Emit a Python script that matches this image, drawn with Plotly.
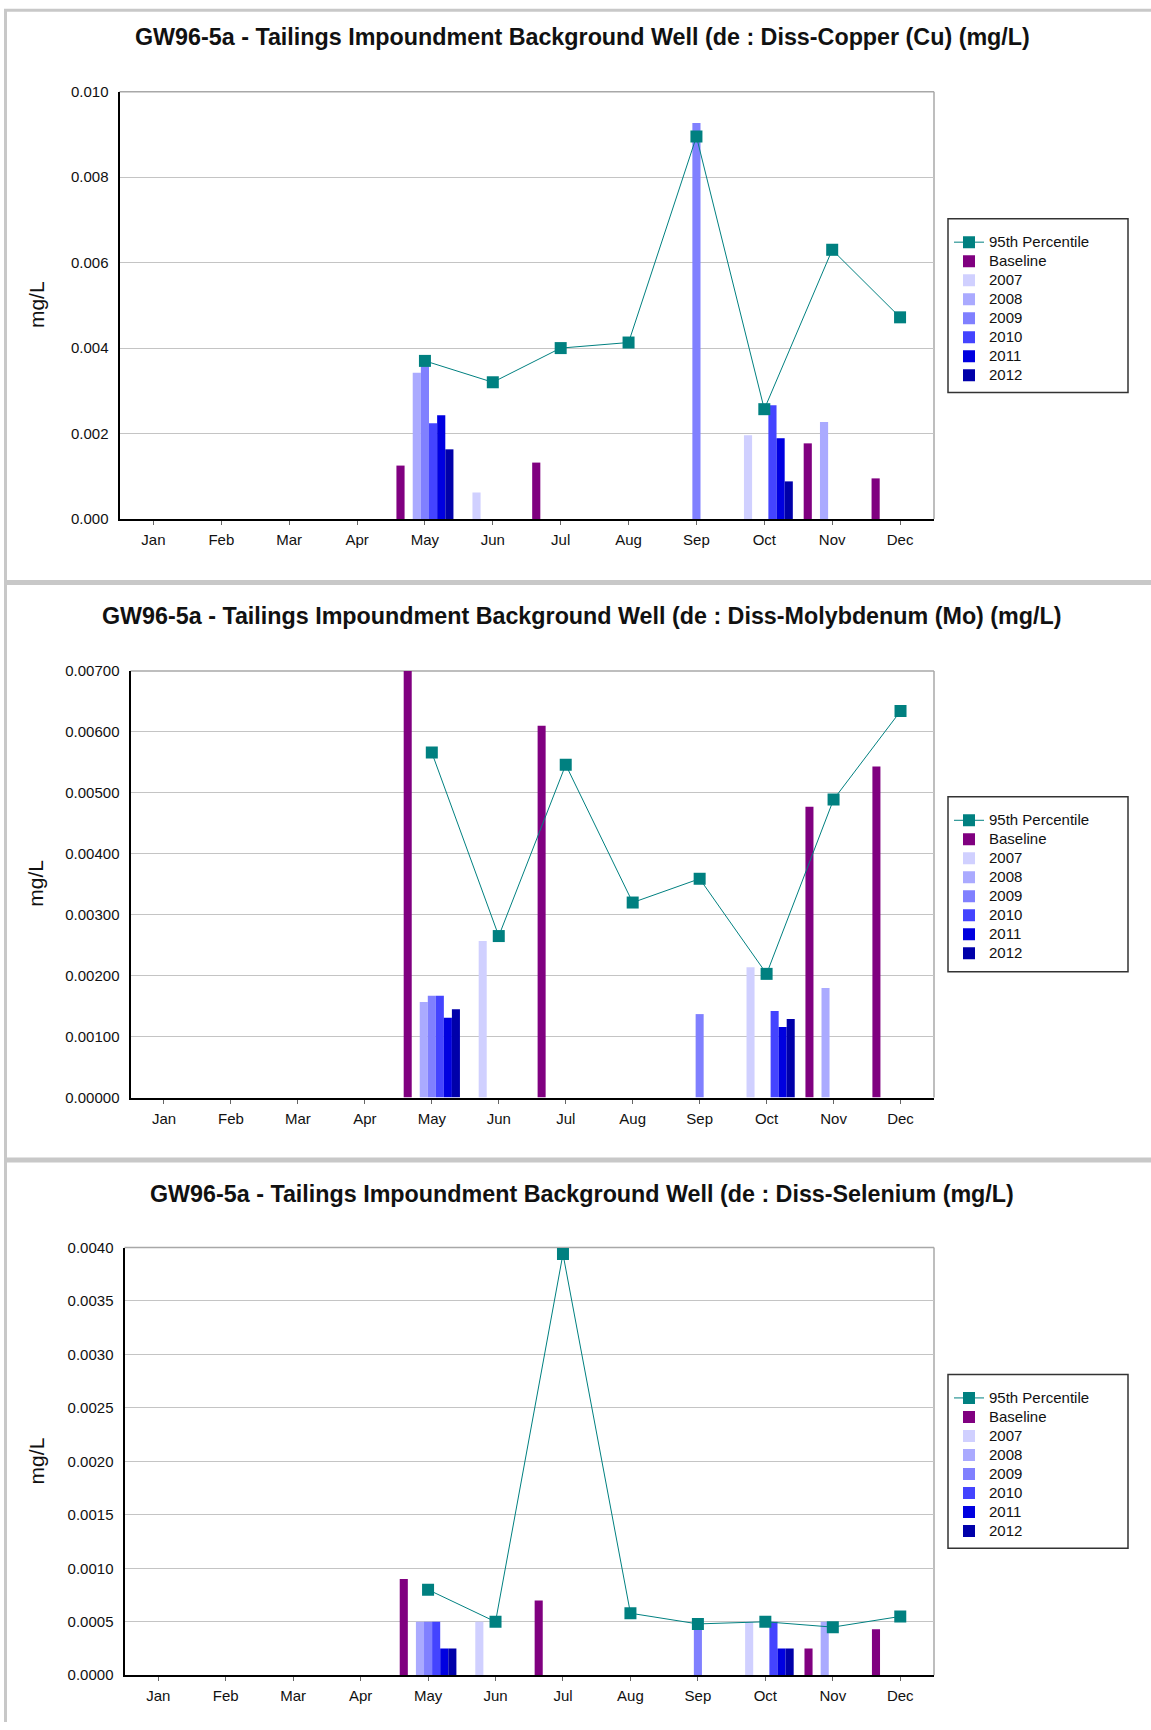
import plotly.graph_objects as go

W, H = 1151, 1730

months = ["Jan", "Feb", "Mar", "Apr", "May", "Jun", "Jul", "Aug", "Sep", "Oct", "Nov", "Dec"]
series_names = ["Baseline", "2007", "2008", "2009", "2010", "2011", "2012"]
series_colors = ["#800080", "#D0D0FF", "#AAAAFF", "#8080FF", "#4444FF", "#0000E0", "#0000AA"]
pct_name = "95th Percentile"
pct_color = "#008080"

# ---- Diss-Copper (Cu) ----
cu_pct      = [None, None, None, None, 0.00370, 0.00320, 0.00400, 0.00413, 0.00895, 0.00257, 0.00630, 0.00472]
cu_baseline = [None, None, None, None, 0.00125, None, 0.00132, None, None, None, 0.00177, 0.00095]
cu_2007     = [None, None, None, None, None, 0.00062, None, None, None, 0.00196, None, None]
cu_2008     = [None, None, None, None, 0.00342, None, None, None, None, None, 0.00227, None]
cu_2009     = [None, None, None, None, 0.00360, None, None, None, 0.00927, None, None, None]
cu_2010     = [None, None, None, None, 0.00224, None, None, None, None, 0.00266, None, None]
cu_2011     = [None, None, None, None, 0.00243, None, None, None, None, 0.00189, None, None]
cu_2012     = [None, None, None, None, 0.00163, None, None, None, None, 0.00088, None, None]

# ---- Diss-Molybdenum (Mo) ----
mo_pct      = [None, None, None, None, 0.00566, 0.00265, 0.00546, 0.00320, 0.00359, 0.00203, 0.00489, 0.00634]
mo_baseline = [None, None, None, None, 0.00700, None, 0.00610, None, None, None, 0.00477, 0.00543]
mo_2007     = [None, None, None, None, None, 0.00257, None, None, None, 0.00214, None, None]
mo_2008     = [None, None, None, None, 0.00157, None, None, None, None, None, 0.00180, None]
mo_2009     = [None, None, None, None, 0.00167, None, None, None, 0.00137, None, None, None]
mo_2010     = [None, None, None, None, 0.00167, None, None, None, None, 0.00142, None, None]
mo_2011     = [None, None, None, None, 0.00131, None, None, None, None, 0.00116, None, None]
mo_2012     = [None, None, None, None, 0.00145, None, None, None, None, 0.00129, None, None]

# ---- Diss-Selenium ----
se_pct      = [None, None, None, None, 0.00080, 0.00050, 0.00394, 0.00058, 0.00048, 0.00050, 0.00045, 0.00055]
se_baseline = [None, None, None, None, 0.00090, None, 0.00070, None, None, None, 0.00025, 0.00043]
se_2007     = [None, None, None, None, None, 0.00050, None, None, None, 0.00050, None, None]
se_2008     = [None, None, None, None, 0.00050, None, None, None, None, None, 0.00050, None]
se_2009     = [None, None, None, None, 0.00050, None, None, None, 0.00050, None, None, None]
se_2010     = [None, None, None, None, 0.00050, None, None, None, None, 0.00050, None, None]
se_2011     = [None, None, None, None, 0.00025, None, None, None, None, 0.00025, None, None]
se_2012     = [None, None, None, None, 0.00025, None, None, None, None, 0.00025, None, None]

titles = [
    "GW96-5a - Tailings Impoundment Background Well (de : Diss-Copper (Cu) (mg/L)",
    "GW96-5a - Tailings Impoundment Background Well (de : Diss-Molybdenum (Mo) (mg/L)",
    "GW96-5a - Tailings Impoundment Background Well (de : Diss-Selenium (mg/L)",
]

panels = [
    dict(pct=cu_pct, bars=[cu_baseline, cu_2007, cu_2008, cu_2009, cu_2010, cu_2011, cu_2012],
         left=119.5, top=90.5, bottom=518, ymax=0.010, dtick=0.002, fmt=".3f",
         title_y=36, leg_top=217.5, leg_bot=391.5, ytitle_y=304),
    dict(pct=mo_pct, bars=[mo_baseline, mo_2007, mo_2008, mo_2009, mo_2010, mo_2011, mo_2012],
         left=130.5, top=670, bottom=1097, ymax=0.007, dtick=0.001, fmt=".5f",
         title_y=615, leg_top=796, leg_bot=971, ytitle_y=883),
    dict(pct=se_pct, bars=[se_baseline, se_2007, se_2008, se_2009, se_2010, se_2011, se_2012],
         left=124.5, top=1247, bottom=1675, ymax=0.004, dtick=0.0005, fmt=".4f",
         title_y=1193, leg_top=1374, leg_bot=1548, ytitle_y=1461),
]

RIGHT = 934
LEG_L, LEG_R = 948, 1128
FONT = "Liberation Sans, Arial, Helvetica, sans-serif"

# observed vertical mapping of the capture: shown_y = 0.9908 * page_y + 7.7
Y_SCALE, Y_OFF = 0.9908, 7.7


def fx(p):
    return p / W


def fy(p):
    q = (p - Y_OFF) / Y_SCALE
    return min(1.0, max(0.0, 1 - q / H))


def legend_label(s):
    return "<span style='font-size:15px'>" + s + "</span>"


fig = go.Figure()
layout = dict(
    width=W, height=H,
    margin=dict(l=0, r=0, t=0, b=0),
    paper_bgcolor="white", plot_bgcolor="white",
    barmode="group", bargap=0.16, bargroupgap=0,
    font=dict(family=FONT, size=15, color="#111111"),
    showlegend=True,
)
annotations = []
shapes = []

for i, p in enumerate(panels):
    n = "" if i == 0 else str(i + 1)
    xa, ya = "x" + n, "y" + n
    leg = "legend" + n

    fig.add_trace(go.Scatter(
        x=months, y=p["pct"], name=legend_label(pct_name), mode="lines+markers",
        line=dict(color=pct_color, width=1),
        marker=dict(symbol="square", size=12, color=pct_color),
        xaxis=xa, yaxis=ya, legend=leg, connectgaps=True,
    ))
    for name, col, vals in zip(series_names, series_colors, p["bars"]):
        fig.add_trace(go.Bar(
            x=months, y=vals, name=legend_label(name),
            marker=dict(color=col, line=dict(width=0)),
            xaxis=xa, yaxis=ya, legend=leg,
        ))

    layout["xaxis" + n] = dict(
        domain=[fx(p["left"]), fx(RIGHT)], anchor=ya,
        type="category", categoryorder="array", categoryarray=months,
        range=[-0.5, 11.5], showgrid=False, zeroline=False,
        showline=True, linecolor="black", linewidth=2,
        ticks="outside", ticklen=4, tickwidth=1, tickcolor="#666666",
        ticklabelstandoff=2,
        tickfont=dict(family=FONT, size=15, color="#111111"),
        fixedrange=True,
    )
    layout["yaxis" + n] = dict(
        domain=[fy(p["bottom"]), fy(p["top"])], anchor=xa,
        range=[0, p["ymax"]], dtick=p["dtick"], tick0=0, tickformat=p["fmt"],
        showgrid=True, gridcolor="#C4C4C4", gridwidth=1, zeroline=False,
        showline=True, linecolor="black", linewidth=2,
        ticks="", ticklabelstandoff=6,
        tickfont=dict(family=FONT, size=15, color="#111111"),
        fixedrange=True,
    )
    layout[leg] = dict(
        x=fx(LEG_L + 1), y=fy(p["leg_top"] + 9), xanchor="left", yanchor="top",
        bgcolor="rgba(0,0,0,0)", borderwidth=0,
        font=dict(family=FONT, size=12, color="#111111"),
        traceorder="normal", itemclick=False, itemdoubleclick=False,
    )

    # plot-area border (top / right in gray)
    shapes.append(dict(type="line", xref="paper", yref="paper",
                       x0=fx(p["left"]), x1=fx(RIGHT), y0=fy(p["top"]), y1=fy(p["top"]),
                       line=dict(color="#A8A8A8", width=1.5), layer="below"))
    shapes.append(dict(type="line", xref="paper", yref="paper",
                       x0=fx(RIGHT), x1=fx(RIGHT), y0=fy(p["top"]), y1=fy(p["bottom"]),
                       line=dict(color="#A8A8A8", width=1.5), layer="below"))
    # legend box
    shapes.append(dict(type="rect", xref="paper", yref="paper",
                       x0=fx(LEG_L), x1=fx(LEG_R), y0=fy(p["leg_bot"]), y1=fy(p["leg_top"]),
                       line=dict(color="#333333", width=1.5), fillcolor="rgba(0,0,0,0)"))

    annotations.append(dict(text="<b>" + titles[i] + "</b>", xref="paper", yref="paper",
                            x=fx(582), y=fy(p["title_y"]), xanchor="center", yanchor="middle",
                            showarrow=False, font=dict(family=FONT, size=23.3, color="#111111")))
    annotations.append(dict(text="mg/L", xref="paper", yref="paper",
                            x=fx(36), y=fy(p["ytitle_y"]), xanchor="center", yanchor="middle",
                            textangle=-90, showarrow=False,
                            font=dict(family=FONT, size=21, color="#111111")))

# panel frames
frame = "#C8C8C8"
shapes.append(dict(type="line", xref="paper", yref="paper", x0=fx(4), x1=1.0, y0=0.9992, y1=0.9992,
                   line=dict(color=frame, width=3)))
shapes.append(dict(type="line", xref="paper", yref="paper", x0=fx(4), x1=1.0, y0=fy(581.5), y1=fy(581.5),
                   line=dict(color=frame, width=5)))
shapes.append(dict(type="line", xref="paper", yref="paper", x0=fx(4), x1=1.0, y0=fy(1159.5), y1=fy(1159.5),
                   line=dict(color=frame, width=5)))
shapes.append(dict(type="line", xref="paper", yref="paper", x0=fx(5.5), x1=fx(5.5), y0=1.0, y1=0,
                   line=dict(color=frame, width=3)))

layout["annotations"] = annotations
layout["shapes"] = shapes
fig.update_layout(**layout)

page_fix = (
    "document.documentElement.style.margin='0';"
    "document.body.style.margin='0';"
    "document.body.style.overflow='hidden';"
)

fig.write_html("out.html", config={"displayModeBar": False}, post_script=page_fix)
